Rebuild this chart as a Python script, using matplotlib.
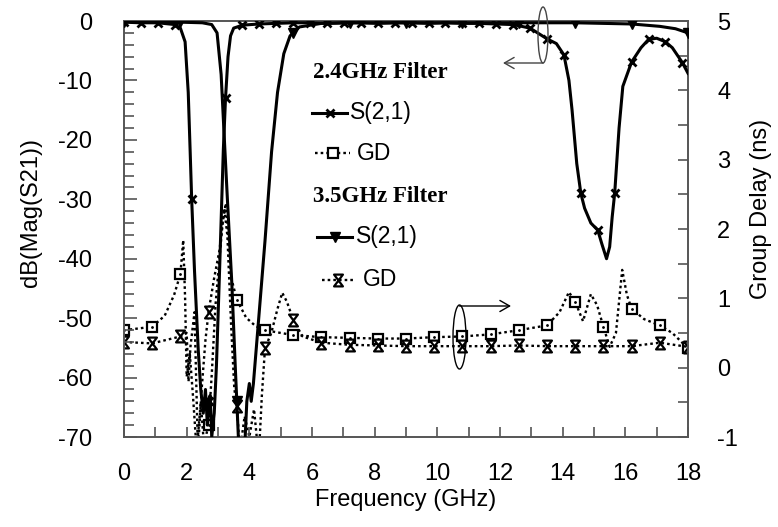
import numpy as np
import matplotlib
matplotlib.use("Agg")
import matplotlib.pyplot as plt
from matplotlib.path import Path
from matplotlib.patches import Ellipse

plt.rcParams['font.family'] = ['Liberation Sans', 'DejaVu Sans']
plt.rcParams['axes.unicode_minus'] = False

# ---------------- data ----------------
# 2.4 GHz filter S21 (dB)
f_s21_24 = [0, 0.54, 1.08, 1.62, 1.8, 1.95, 2.05, 2.11, 2.16, 2.25, 2.37, 2.45, 2.53, 2.6, 2.66,
            2.7, 2.75, 2.8, 2.88, 2.95, 3.05, 3.17, 3.24, 3.32, 3.4, 3.5, 3.78, 4.32, 4.86, 5.4,
            5.94, 6.48, 7.02, 7.56, 8.1, 8.64, 9.18, 9.72, 10.26, 10.8, 11.34, 11.88, 12.42,
            12.96, 13.2, 13.5, 13.8, 14.04, 14.2, 14.3, 14.45, 14.58, 14.7, 14.9, 15.12, 15.25,
            15.4, 15.5, 15.58, 15.66, 15.8, 15.92, 16.2, 16.5, 16.74, 17.0, 17.28, 17.5, 17.82, 18.0]
db_s21_24 = [-0.2, -0.3, -0.3, -0.6, -1.2, -3.5, -12, -21.7, -30, -42, -55.4, -62, -66, -62, -68,
             -64, -63, -70, -66, -58, -42, -21.7, -13, -6, -2.5, -1.2, -0.7, -0.5, -0.4, -0.3,
             -0.3, -0.4, -0.3, -0.3, -0.4, -0.3, -0.3, -0.4, -0.3, -0.4, -0.4, -0.5, -0.6,
             -1.2, -2.0, -3.0, -3.8, -5.7, -10, -15, -24, -29, -31.5, -34, -35.2, -37.5,
             -40, -38, -33, -29, -18, -11, -6.9, -4.5, -3.1, -2.9, -3.5, -4.5, -7, -8.8]
mk_step_24 = 0.54

# 3.5 GHz filter S21 (dB)
f_s21_35 = [0, 0.9, 1.8, 2.5, 2.8, 2.97, 3.1, 3.22, 3.3, 3.44, 3.55, 3.6, 3.65, 3.75, 3.85, 3.92,
            4.0, 4.06, 4.13, 4.3, 4.5, 4.71, 4.9, 5.1, 5.3, 5.4, 5.6, 6.3, 7.2, 8.1, 9.0, 9.9,
            10.8, 11.7, 12.6, 13.5, 14.4, 15.3, 16.2, 17.1, 17.6, 18.0]
db_s21_35 = [-0.1, -0.1, -0.2, -0.3, -0.6, -2, -9, -21.7, -30, -44, -58, -64, -70, -74, -72, -64,
             -61, -64, -61, -50, -37, -22, -12, -5.5, -2.5, -2.0, -1.0, -0.4, -0.3, -0.3, -0.3, -0.3,
             -0.3, -0.3, -0.3, -0.3, -0.3, -0.4, -0.5, -0.9, -1.3, -2.0]
mk_step_35 = 1.8

# 2.4 GHz filter group delay (ns)
f_gd_24 = [0, 0.9, 1.3, 1.6, 1.8, 1.89, 1.95, 2.0, 2.1, 2.2, 2.32, 2.45, 2.55, 2.7, 2.8, 2.92,
           3.05, 3.15, 3.25, 3.33, 3.42, 3.6, 3.9, 4.2, 4.5, 5.4, 6.3, 7.2, 8.1, 9.0, 9.9, 10.8,
           11.7, 12.6, 13.5, 13.9, 14.2, 14.4, 14.65, 14.9, 15.1, 15.3, 15.5, 15.7, 15.9, 16.05,
           16.2, 16.6, 17.1, 17.5, 18.0]
ns_gd_24 = [0.54, 0.59, 0.75, 1.05, 1.35, 1.84, 1.0, -0.13, 0.2, -0.4, -1.2, -0.5, -1.1, -0.83, -0.1, 0.9,
            1.6, 2.1, 2.37, 1.9, 1.3, 0.98, 0.72, 0.6, 0.54, 0.47, 0.44, 0.43, 0.42, 0.42, 0.44, 0.45,
            0.48, 0.54, 0.61, 0.8, 1.09, 0.95, 0.67, 1.06, 0.9, 0.59, 0.3, 0.5, 1.41, 1.05,
            0.85, 0.7, 0.61, 0.5, 0.28]

# 3.5 GHz filter group delay (ns)
f_gd_35 = [0, 0.9, 1.8, 2.0, 2.06, 2.12, 2.25, 2.36, 2.48, 2.6, 2.7, 2.88, 3.05, 3.2, 3.3, 3.42,
           3.52, 3.6, 3.7, 3.85, 4.0, 4.15, 4.3, 4.4, 4.5, 4.7, 4.9, 5.05, 5.2, 5.4, 5.7, 6.3,
           7.2, 8.1, 9.0, 9.9, 10.8, 11.7, 12.6, 13.5, 14.4, 15.3, 16.2, 17.1, 18.0]
ns_gd_35 = [0.37, 0.35, 0.45, 0.5, -0.2, 0.3, 0.8, -1.2, -0.3, 0.4, 0.81, 1.3, 1.7, 2.3, 1.9, 0.6,
            -0.3, -0.56, -1.2, -0.7, -1.0, -0.6, -1.3, -0.4, 0.28, 0.5, 0.85, 1.08, 0.95, 0.69, 0.45, 0.36,
            0.33, 0.32, 0.31, 0.31, 0.31, 0.31, 0.32, 0.31, 0.31, 0.31, 0.31, 0.36, 0.30]
mk_step_gd = 0.9

x_ticks = list(range(0, 19, 2))
y_ticks_db = list(range(-70, 1, 10))
y_ticks_gd = list(range(-1, 6))


def mark_idx(f, step):
    f = np.asarray(f)
    k = np.round(f / step)
    return [i for i in range(len(f)) if abs(f[i] - k[i] * step) < 1e-6]


hourglass = Path([(-0.75, 1), (0.75, 1), (-0.75, -1), (0.75, -1), (-0.75, 1)],
                 [Path.MOVETO, Path.LINETO, Path.LINETO, Path.LINETO, Path.CLOSEPOLY])

dot_ls = (0, (1.1, 1.3))

# ---------------- figure ----------------
W, H = 778, 527
fig = plt.figure(figsize=(W / 100, H / 100), dpi=100)
L, R, T, B = 124, 688, 21, 437
ax = fig.add_axes([L / W, 1 - B / H, (R - L) / W, (B - T) / H])
ax2 = ax.twinx()
ax.set_zorder(ax2.get_zorder() + 1)
ax.patch.set_visible(False)

ax.set_xlim(0, 18)
ax.set_ylim(-70, 0)
ax2.set_ylim(-1, 5)

# S21 curves
ax.plot(f_s21_24, db_s21_24, color='black', lw=2.2, marker='x', ms=6, mew=2,
        markevery=mark_idx(f_s21_24, mk_step_24), zorder=4)
ax.plot(f_s21_35, db_s21_35, color='black', lw=2.2, marker='v', ms=6.5,
        markevery=mark_idx(f_s21_35, mk_step_35), zorder=4)

# Group delay curves
ax2.plot(f_gd_24, ns_gd_24, color='black', lw=1.7, ls=dot_ls, marker='s', ms=7,
         mfc='white', mec='black', mew=1.6, markevery=mark_idx(f_gd_24, mk_step_gd))
ax2.plot(f_gd_24, ns_gd_24, color='black', lw=0, marker='.', ms=2,
         markevery=mark_idx(f_gd_24, mk_step_gd))
ax2.plot(f_gd_35, ns_gd_35, color='black', lw=1.7, ls=dot_ls, marker=hourglass, ms=8.5,
         mfc='white', mec='black', mew=1.6, markevery=mark_idx(f_gd_35, mk_step_gd))

# ticks
spine_c = '#555555'
for a in (ax, ax2):
    for s in a.spines.values():
        s.set_color(spine_c)
        s.set_linewidth(1.2)

ax.set_xticks(x_ticks)
ax.set_xticks(np.arange(0, 18.01, 1), minor=True)
ax.set_yticks(y_ticks_db)
ax.set_yticks(np.arange(-70, 0.01, 2), minor=True)
ax.tick_params(axis='both', which='both', direction='in', top=False, right=False,
               color=spine_c, labelsize=17)
ax.tick_params(axis='y', which='major', length=9, width=1.2, pad=23)
ax.tick_params(axis='y', which='minor', length=7, width=1.2)
ax.tick_params(axis='x', which='both', length=7, width=1.2, pad=19)
ax.tick_params(axis='x', which='major', labelsize=17)

ax2.set_yticks(y_ticks_gd)
ax2.set_yticks(np.arange(-1, 5.01, 0.5), minor=True)
ax2.tick_params(axis='y', which='both', direction='in', length=7, width=1.2,
                color=spine_c, labelsize=17, pad=21)

# axis labels
fig.text(406 / W, 1 - 500 / H, 'Frequency (GHz)', ha='center', va='center', fontsize=17)
fig.text(31 / W, 1 - 212 / H, 'dB(Mag(S21))', ha='center', va='center', fontsize=17, rotation=90)
fig.text(761 / W, 1 - 209 / H, 'Group Delay (ns)', ha='center', va='center', fontsize=17, rotation=90)

# legend (manual)
def px2ax(px, py):
    return (px - L) / (R - L), 1 - (py - T) / (B - T)

serif = ['Liberation Serif', 'DejaVu Serif']
for (tx, ty), txt in [((313, 72), '2.4GHz Filter'), ((313, 197), '3.5GHz Filter')]:
    x0, y0 = px2ax(tx, ty)
    ax.text(x0, y0, txt, transform=ax.transAxes, fontsize=16.5, fontweight='bold',
            family=serif, ha='left', va='center', zorder=6)

entries = [
    (312, 347, 113, 350, 'S(2,1)', dict(lw=2.2, ls='-', marker='x', ms=6, mew=2)),
    (315, 350, 153, 357, 'GD', dict(lw=1.7, ls=dot_ls, marker='s', ms=7, mfc='white', mew=1.6)),
    (317, 352, 237, 356, 'S(2,1)', dict(lw=2.2, ls='-', marker='v', ms=6.5)),
    (322, 353, 280, 363, 'GD', dict(lw=1.7, ls=dot_ls, marker=hourglass, ms=8.5, mfc='white', mew=1.6)),
]
for x1, x2, yy, xt, lab, st in entries:
    a1, b1 = px2ax(x1, yy)
    a2, _ = px2ax(x2, yy)
    ax.plot([a1, (a1 + a2) / 2, a2], [b1, b1, b1], transform=ax.transAxes, color='black',
            mec='black', markevery=[1], clip_on=False, zorder=6, **st)
    at, bt = px2ax(xt, yy)
    ax.text(at, bt, lab, transform=ax.transAxes, fontsize=16.5, ha='left', va='center', zorder=6)

# annotation: ellipse + arrow (S21 -> left axis)
e1 = Ellipse(px2ax(543, 35), width=10 / (R - L), height=56 / (B - T), transform=ax.transAxes,
             fill=False, ec='#444444', lw=1.0, clip_on=False, zorder=7)
ax.add_patch(e1)
ax.annotate('', xy=px2ax(503, 63), xytext=px2ax(543, 63), xycoords='axes fraction',
            textcoords='axes fraction',
            arrowprops=dict(arrowstyle='->,head_length=0.7,head_width=0.4', color='#444444', lw=1.0,
                            shrinkA=0, shrinkB=0), zorder=7)

# annotation: ellipse + arrow (GD -> right axis)
e2 = Ellipse(px2ax(459.5, 337), width=13 / (R - L), height=64 / (B - T), transform=ax.transAxes,
             fill=False, ec='black', lw=1.0, clip_on=False, zorder=7)
ax.add_patch(e2)
ax.annotate('', xy=px2ax(511, 306), xytext=px2ax(459.5, 306), xycoords='axes fraction',
            textcoords='axes fraction',
            arrowprops=dict(arrowstyle='->,head_length=0.7,head_width=0.4', color='black', lw=1.0,
                            shrinkA=0, shrinkB=0), zorder=7)

fig.savefig('out.png', dpi=100)
